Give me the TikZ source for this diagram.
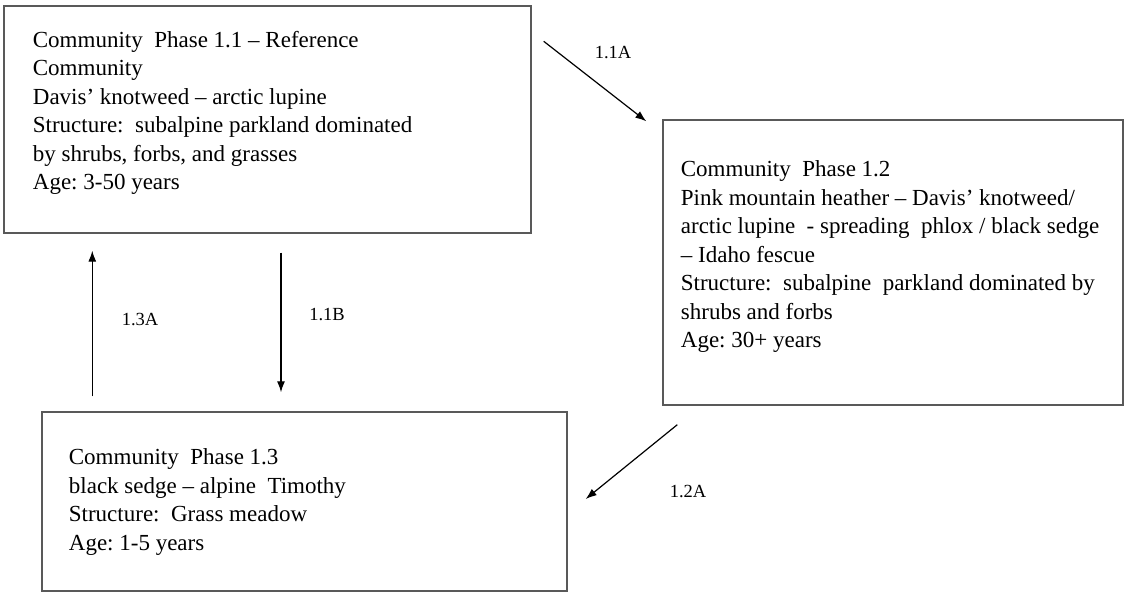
\documentclass[tikz,border=0pt]{standalone}
\usepackage{fontspec}
\setmainfont{Liberation Serif}
\usetikzlibrary{arrows.meta}
\tikzset{
  phase/.style={draw=black!65,line width=1.4pt,inner sep=0pt},
  phasetext/.style={anchor=north west,align=left,inner sep=0pt,
    font=\fontsize{23}{28.5}\selectfont},
  trans/.style={font=\fontsize{18.5}{22}\selectfont,inner sep=0pt},
}
\begin{document}
\begin{tikzpicture}[>={Latex[length=11pt,width=8pt]},x=1pt,y=-1pt,line width=1.2pt]
\useasboundingbox (0,0) rectangle (1125,593);
%%
\node (phase_11) at (267.5,119.5) [phase,minimum width=527pt,minimum height=227pt] {};
  \node (phase_12) at (893,262.5) [phase,minimum width=460pt,minimum height=285pt] {};
  \node (phase_13) at (304.5,501.5) [phase,minimum width=525pt,minimum height=179pt] {};
  \node (text_11) at ([shift={(29,25)}]phase_11.north west) [phasetext] {Community\ \ Phase 1.1 -- Reference\\Community\\Davis’ knotweed -- arctic lupine\\Structure:\ \ subalpine parkland\ dominated\\by shrubs, forbs, and grasses\\Age:\ 3-50 years};
  \node (text_12) at ([shift={(18,41)}]phase_12.north west) [phasetext] {Community\ \ Phase 1.2\\Pink mountain\ heather -- Davis’ knotweed/\\arctic lupine\ \ - spreading\ \ phlox / black sedge\\-- Idaho fescue\\Structure:\ \ subalpine\ \ parkland dominated\ by\\shrubs\ and forbs\\Age:\ 30+ years};
  \node (text_13) at ([shift={(27,37)}]phase_13.north west) [phasetext] {Community\ \ Phase 1.3\\black sedge -- alpine\ \ Timothy\\Structure:\ \ Grass meadow\\Age:\ 1-5 years};
  \node (label_11a) at (613,53) [trans] {1.1A};
  \node (label_11b) at (327,315) [trans] {1.1B};
  \node (label_13a) at (140,320) [trans] {1.3A};
  \node (label_12a) at (688,492) [trans] {1.2A};
  \draw [black,->] ([shift={(12,36)}]phase_11.north east) -- ([shift={(-16,2)}]phase_12.north west);
  \draw [black,->] ([shift={(13.5,19)}]phase_11.south) -- ([shift={(-23.5,-19)}]phase_13.north);
  \draw [black,->] ([shift={(51,-15)}]phase_13.north west) -- ([shift={(89,17)}]phase_11.south west);
  \draw [black,->] ([shift={(15,19)}]phase_12.south west) -- ([shift={(18,-2.5)}]phase_13.east);
%
\end{tikzpicture}
\end{document}
